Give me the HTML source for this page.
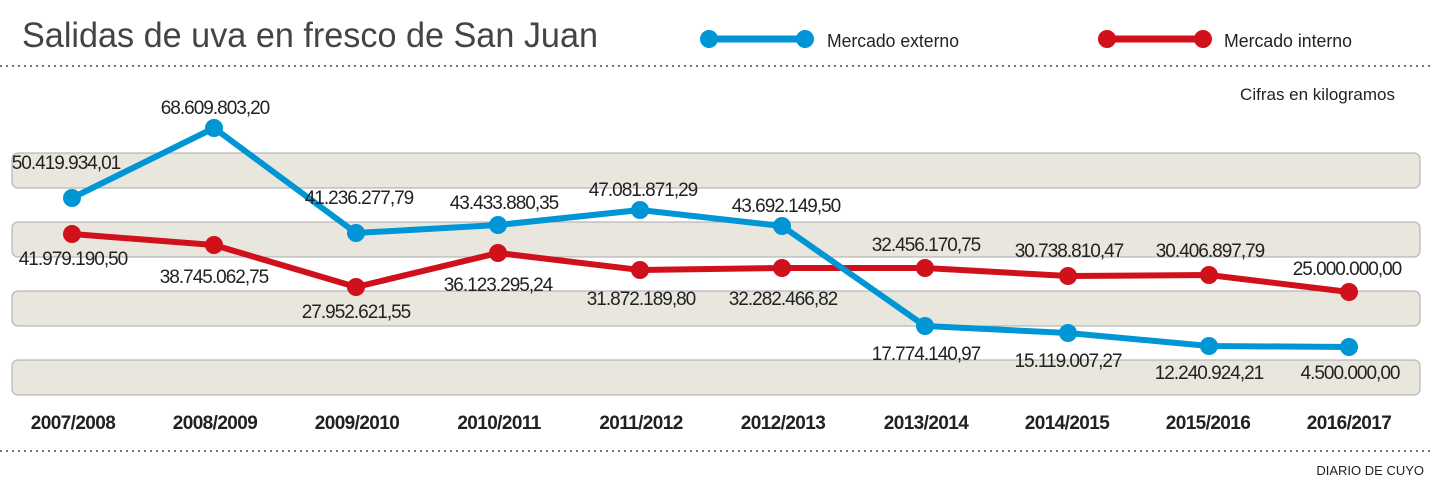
<!DOCTYPE html>
<html><head><meta charset="utf-8"><style>
body{margin:0;background:#fff}
svg{display:block;font-family:"Liberation Sans",Arial,sans-serif}
</style></head><body>
<svg width="1434" height="485" xmlns="http://www.w3.org/2000/svg">
<text x="22" y="47" font-size="35" fill="#444" textLength="576" lengthAdjust="spacingAndGlyphs">Salidas de uva en fresco de San Juan</text>
<line x1="707" y1="39" x2="807" y2="39" stroke="#0096d6" stroke-width="7"/>
<circle cx="709" cy="39" r="9" fill="#0096d6"/><circle cx="805" cy="39" r="9" fill="#0096d6"/>
<text x="827" y="47" font-size="18" fill="#222" textLength="132" lengthAdjust="spacingAndGlyphs">Mercado externo</text>
<line x1="1105" y1="39" x2="1205" y2="39" stroke="#d0101b" stroke-width="7"/>
<circle cx="1107" cy="39" r="9" fill="#d0101b"/><circle cx="1203" cy="39" r="9" fill="#d0101b"/>
<text x="1224" y="47" font-size="18" fill="#222" textLength="128" lengthAdjust="spacingAndGlyphs">Mercado interno</text>
<line x1="0" y1="66" x2="1434" y2="66" stroke="#777" stroke-width="2" stroke-dasharray="2,4"/>
<text x="1395" y="100" font-size="17" fill="#222" text-anchor="end">Cifras en kilogramos</text>
<g fill="#e9e6dd" stroke="#aaa" stroke-width="1">
<rect x="12" y="153" width="1408" height="35" rx="6"/>
<rect x="12" y="222" width="1408" height="35" rx="6"/>
<rect x="12" y="291" width="1408" height="35" rx="6"/>
<rect x="12" y="360" width="1408" height="35" rx="6"/>
</g>
<polyline fill="none" stroke="#d0101b" stroke-width="6" stroke-linejoin="round" points="72,234 214,245 356,287 498,253 640,270 782,268 925,268 1068,276 1209,275 1349,292"/>
<g fill="#d0101b"><circle cx="72" cy="234" r="9"/><circle cx="214" cy="245" r="9"/><circle cx="356" cy="287" r="9"/><circle cx="498" cy="253" r="9"/><circle cx="640" cy="270" r="9"/><circle cx="782" cy="268" r="9"/><circle cx="925" cy="268" r="9"/><circle cx="1068" cy="276" r="9"/><circle cx="1209" cy="275" r="9"/><circle cx="1349" cy="292" r="9"/></g>
<polyline fill="none" stroke="#0096d6" stroke-width="6" stroke-linejoin="round" points="72,198 214,128 356,233 498,225 640,210 782,226 925,326 1068,333 1209,346 1349,347"/>
<g fill="#0096d6"><circle cx="72" cy="198" r="9"/><circle cx="214" cy="128" r="9"/><circle cx="356" cy="233" r="9"/><circle cx="498" cy="225" r="9"/><circle cx="640" cy="210" r="9"/><circle cx="782" cy="226" r="9"/><circle cx="925" cy="326" r="9"/><circle cx="1068" cy="333" r="9"/><circle cx="1209" cy="346" r="9"/><circle cx="1349" cy="347" r="9"/></g>
<g font-size="19" fill="#222" text-anchor="middle" letter-spacing="-1">
<text x="66" y="169">50.419.934,01</text>
<text x="215" y="114">68.609.803,20</text>
<text x="359" y="204">41.236.277,79</text>
<text x="504" y="209">43.433.880,35</text>
<text x="643" y="196">47.081.871,29</text>
<text x="786" y="212">43.692.149,50</text>
<text x="926" y="251">32.456.170,75</text>
<text x="1069" y="257">30.738.810,47</text>
<text x="1210" y="257">30.406.897,79</text>
<text x="1347" y="275">25.000.000,00</text>
<text x="73" y="265">41.979.190,50</text>
<text x="214" y="283">38.745.062,75</text>
<text x="356" y="318">27.952.621,55</text>
<text x="498" y="291">36.123.295,24</text>
<text x="641" y="305">31.872.189,80</text>
<text x="783" y="305">32.282.466,82</text>
<text x="926" y="360">17.774.140,97</text>
<text x="1068" y="367">15.119.007,27</text>
<text x="1209" y="379">12.240.924,21</text>
<text x="1350" y="379">4.500.000,00</text>
</g>
<g font-size="19" font-weight="bold" fill="#222" text-anchor="middle" letter-spacing="-0.6">
<text x="73" y="429">2007/2008</text><text x="215" y="429">2008/2009</text><text x="357" y="429">2009/2010</text><text x="499" y="429">2010/2011</text><text x="641" y="429">2011/2012</text><text x="783" y="429">2012/2013</text><text x="926" y="429">2013/2014</text><text x="1067" y="429">2014/2015</text><text x="1208" y="429">2015/2016</text><text x="1349" y="429">2016/2017</text>
</g>
<line x1="0" y1="451" x2="1434" y2="451" stroke="#777" stroke-width="2" stroke-dasharray="2,4"/>
<text x="1424" y="475" font-size="13" fill="#222" text-anchor="end">DIARIO DE CUYO</text>
</svg>
</body></html>
